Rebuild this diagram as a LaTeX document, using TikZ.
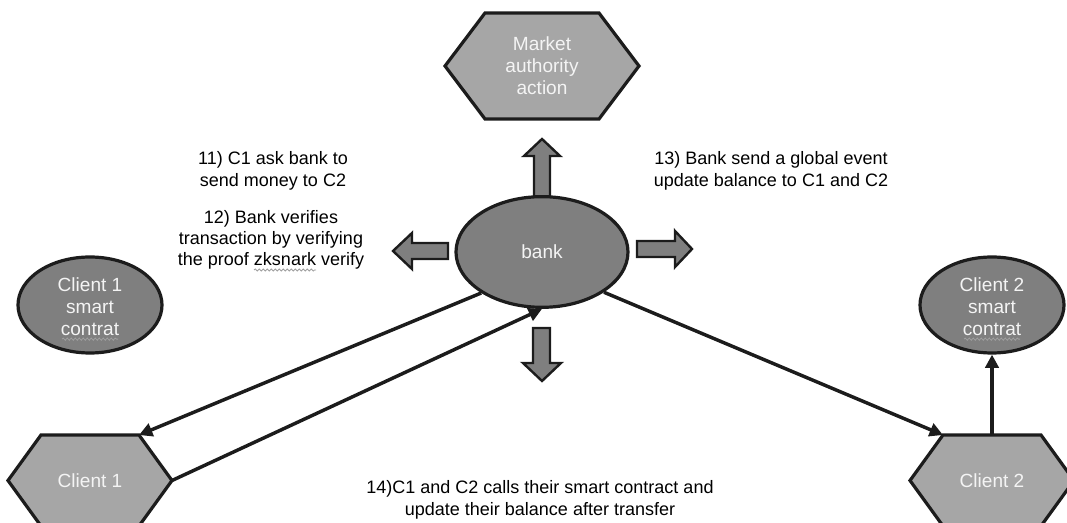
\documentclass[tikz,border=0pt]{standalone}
\usepackage{fontspec}
\setmainfont{Liberation Sans}
\usetikzlibrary{shapes.geometric,arrows.meta,calc,decorations.pathmorphing}

\definecolor{lightshape}{RGB}{166,166,166}
\definecolor{darkshape}{RGB}{127,127,127}
\definecolor{edgeline}{RGB}{28,28,28}
\definecolor{innertext}{RGB}{244,244,244}
\definecolor{squiggle}{RGB}{160,160,160}

\begin{document}
\begin{tikzpicture}[x=0.75pt,y=0.75pt,yscale=-1,xscale=1,
	hexa/.style={draw=edgeline,fill=lightshape,line width=2.4pt,line join=miter},
	oval/.style={ellipse,draw=edgeline,fill=darkshape,line width=2.4pt,inner sep=0pt},
	blockarrow/.style={draw=edgeline,fill=darkshape,line width=1.8pt,line join=miter},
	link/.style={draw=edgeline,line width=2.6pt,-{Triangle[length=10pt,width=10pt]}},
	spellmark/.style={draw=squiggle,line width=0.6pt,decorate,decoration={snake,amplitude=0.8pt,segment length=3pt}},
	intext/.style={text=innertext,align=center,inner sep=0pt,font=\fontsize{14.3}{16.4}\selectfont},
	note/.style={align=center,inner sep=0pt,font=\fontsize{13.5}{16}\selectfont}]
				\useasboundingbox (0,0) rectangle (1067,523);
				\clip (0,0) rectangle (1067,523);

				%Shape: Up Arrow
				\draw [blockarrow] (534,197) -- (534,156) -- (524,156) -- (542,139) -- (560,156) -- (550,156) -- (550,197) -- cycle ;
				%Shape: Down Arrow
				\draw [blockarrow] (533,328) -- (550,328) -- (550,363) -- (561,363) -- (542,381) -- (523,363) -- (533,363) -- cycle ;
				%Shape: Left Arrow
				\draw [blockarrow] (448,243) -- (412,243) -- (412,233) -- (393,251) -- (412,269) -- (412,259) -- (448,259) -- cycle ;
				%Shape: Right Arrow
				\draw [blockarrow] (637,241) -- (675,241) -- (675,231) -- (692,249) -- (675,267) -- (675,257) -- (637,257) -- cycle ;

				%Shape: Hexagon (market)
				\draw [hexa] (445,66) -- (485,13) -- (599,13) -- (639,66) -- (599,119) -- (485,119) -- cycle ;
				%Shape: Hexagon (client 1)
				\draw [hexa] (8,480.5) -- (41,435) coordinate (c1tl) -- (139,435) coordinate (c1tr) -- (172,480.5) coordinate (c1r) -- (139,526) -- (41,526) -- cycle ;
				%Shape: Hexagon (client 2)
				\draw [hexa] (910,480.5) -- (943,435) coordinate (c2tl) -- (1041,435) -- (1074,480.5) -- (1041,526) -- (943,526) -- cycle ;
				\coordinate (c2top) at (992,435) ;

				%Shape: Ellipse (bank)
				\node [oval,minimum width=129pt,minimum height=83pt] (bank) at (542,252) {};
				%Shape: Ellipse (smart contracts)
				\node [oval,minimum width=108pt,minimum height=72pt] (sc1) at (90,305) {};
				\node [oval,minimum width=108pt,minimum height=72pt] (sc2) at (992,305) {};

				%Straight Lines
				\draw [link] (bank.214) -- (c1tr) ;
				\draw [link] (c1r) -- (bank.270) ;
				\draw [link] (bank.327) -- (c2tl) ;
				\draw [link] (c2top) -- (sc2.south) ;

				% Text Node
				\node [intext] (market) at (542,66) {Market\\authority\\action};
				% Text Node
				\node [intext] (banktext) at (542,252) {bank};
				% Text Node
				\node [intext] (sc1text) at (90,307) {Client 1\\smart\\contrat};
				% Text Node
				\node [intext] (sc2text) at (992,307) {Client 2\\smart\\contrat};
				% Text Node
				\node [intext] (client1) at (90,481) {Client 1};
				% Text Node
				\node [intext] (client2) at (992,481) {Client 2};
				% Text Node
				\node [note] (t11) at (273,171) {11) C1 ask bank to\\send money to C2};
				% Text Node
				\node [note] (t12) at (271,240) {12) Bank verifies\\transaction by verifying\\the proof zksnark verify};
				% Text Node
				\node [note] (t13) at (771,171) {13) Bank send a global event\\update balance to C1 and C2};
				% Text Node
				\node [note] (t14) at (540,500) {14)C1 and C2 calls their smart contract and\\update their balance after transfer};

				%Spell-check marks
				\draw [spellmark] ($(sc1text.south)+(-28,3)$) -- ($(sc1text.south)+(28,3)$) ;
				\draw [spellmark] ($(sc2text.south)+(-28,3)$) -- ($(sc2text.south)+(28,3)$) ;
				\draw [spellmark] ($(t12.south)+(-17,0)$) -- ($(t12.south)+(45,0)$) ;

\end{tikzpicture}
\end{document}
